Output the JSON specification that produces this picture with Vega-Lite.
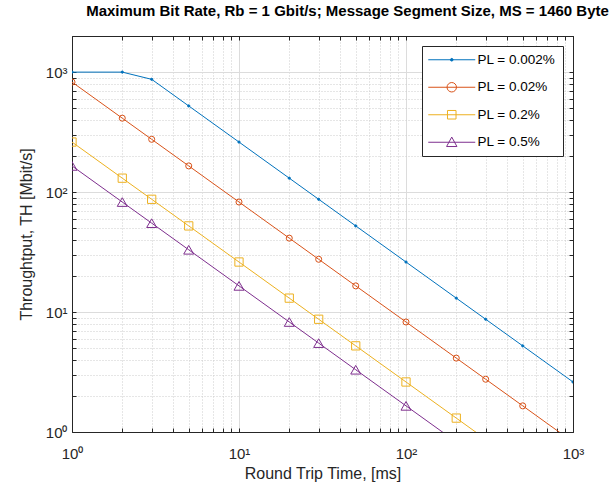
{
  "$schema": "https://vega.github.io/schema/vega-lite/v6.json",
  "width": 501,
  "height": 396,
  "autosize": {"type": "none"},
  "padding": {"left": 72, "top": 36, "right": 43, "bottom": 51},
  "background": "white",
  "title": {"text": "Maximum Bit Rate, Rb = 1 Gbit/s; Message Segment Size, MS = 1460 Byte", "anchor": "middle", "dx": 25, "offset": 10, "fontSize": 15, "font": "Liberation Sans", "fontWeight": "bold", "color": "black"},
  "config": {"view": {"stroke": null}, "font": "Liberation Sans"},
  "data": {"values": [
    {"rtt": 1, "tput": 1000, "series": "PL = 0.002%"},
    {"rtt": 2, "tput": 1000, "series": "PL = 0.002%"},
    {"rtt": 3, "tput": 870.6, "series": "PL = 0.002%"},
    {"rtt": 5, "tput": 522.4, "series": "PL = 0.002%"},
    {"rtt": 10, "tput": 261.2, "series": "PL = 0.002%"},
    {"rtt": 20, "tput": 130.6, "series": "PL = 0.002%"},
    {"rtt": 30, "tput": 87.06, "series": "PL = 0.002%"},
    {"rtt": 50, "tput": 52.24, "series": "PL = 0.002%"},
    {"rtt": 100, "tput": 26.12, "series": "PL = 0.002%"},
    {"rtt": 200, "tput": 13.06, "series": "PL = 0.002%"},
    {"rtt": 300, "tput": 8.706, "series": "PL = 0.002%"},
    {"rtt": 500, "tput": 5.224, "series": "PL = 0.002%"},
    {"rtt": 1000, "tput": 2.612, "series": "PL = 0.002%"},
    {"rtt": 1, "tput": 826.0, "series": "PL = 0.02%"},
    {"rtt": 2, "tput": 413.0, "series": "PL = 0.02%"},
    {"rtt": 3, "tput": 275.3, "series": "PL = 0.02%"},
    {"rtt": 5, "tput": 165.2, "series": "PL = 0.02%"},
    {"rtt": 10, "tput": 82.6, "series": "PL = 0.02%"},
    {"rtt": 20, "tput": 41.3, "series": "PL = 0.02%"},
    {"rtt": 30, "tput": 27.53, "series": "PL = 0.02%"},
    {"rtt": 50, "tput": 16.52, "series": "PL = 0.02%"},
    {"rtt": 100, "tput": 8.26, "series": "PL = 0.02%"},
    {"rtt": 200, "tput": 4.13, "series": "PL = 0.02%"},
    {"rtt": 300, "tput": 2.753, "series": "PL = 0.02%"},
    {"rtt": 500, "tput": 1.652, "series": "PL = 0.02%"},
    {"rtt": 1000, "tput": 0.826, "series": "PL = 0.02%"},
    {"rtt": 1, "tput": 261.2, "series": "PL = 0.2%"},
    {"rtt": 2, "tput": 130.6, "series": "PL = 0.2%"},
    {"rtt": 3, "tput": 87.06, "series": "PL = 0.2%"},
    {"rtt": 5, "tput": 52.24, "series": "PL = 0.2%"},
    {"rtt": 10, "tput": 26.12, "series": "PL = 0.2%"},
    {"rtt": 20, "tput": 13.06, "series": "PL = 0.2%"},
    {"rtt": 30, "tput": 8.706, "series": "PL = 0.2%"},
    {"rtt": 50, "tput": 5.224, "series": "PL = 0.2%"},
    {"rtt": 100, "tput": 2.612, "series": "PL = 0.2%"},
    {"rtt": 200, "tput": 1.306, "series": "PL = 0.2%"},
    {"rtt": 300, "tput": 0.871, "series": "PL = 0.2%"},
    {"rtt": 500, "tput": 0.522, "series": "PL = 0.2%"},
    {"rtt": 1000, "tput": 0.261, "series": "PL = 0.2%"},
    {"rtt": 1, "tput": 165.2, "series": "PL = 0.5%"},
    {"rtt": 2, "tput": 82.6, "series": "PL = 0.5%"},
    {"rtt": 3, "tput": 55.07, "series": "PL = 0.5%"},
    {"rtt": 5, "tput": 33.04, "series": "PL = 0.5%"},
    {"rtt": 10, "tput": 16.52, "series": "PL = 0.5%"},
    {"rtt": 20, "tput": 8.26, "series": "PL = 0.5%"},
    {"rtt": 30, "tput": 5.507, "series": "PL = 0.5%"},
    {"rtt": 50, "tput": 3.304, "series": "PL = 0.5%"},
    {"rtt": 100, "tput": 1.652, "series": "PL = 0.5%"},
    {"rtt": 200, "tput": 0.826, "series": "PL = 0.5%"},
    {"rtt": 300, "tput": 0.551, "series": "PL = 0.5%"},
    {"rtt": 500, "tput": 0.330, "series": "PL = 0.5%"},
    {"rtt": 1000, "tput": 0.165, "series": "PL = 0.5%"}
  ]},
  "layer": [
    {
      "mark": {"type": "line", "clip": true, "strokeWidth": 1},
      "encoding": {
        "x": {"field": "rtt", "type": "quantitative",
          "scale": {"type": "log", "domain": [1, 1000], "nice": false},
          "axis": {"orient": "bottom",
            "values": [1,2,3,4,5,6,7,8,9,10,20,30,40,50,60,70,80,90,100,200,300,400,500,600,700,800,900,1000],
            "labelExpr": "datum.value==1?'10⁰':datum.value==10?'10¹':datum.value==100?'10²':datum.value==1000?'10³':''",
            "labelOverlap": false, "labelFlush": false, "labelBound": false,
            "grid": true,
            "gridColor": {"condition": {"test": "datum.value==1||datum.value==10||datum.value==100||datum.value==1000", "value": "#dcdcdc"}, "value": "#cccccc"},
            "gridDash": {"condition": {"test": "datum.value==1||datum.value==10||datum.value==100||datum.value==1000", "value": []}, "value": [1, 2]},
            "tickSize": -4, "tickColor": "#262626", "domainColor": "#262626",
            "labelFontSize": 15, "labelColor": "#262626", "labelPadding": 18,
            "title": "Round Trip Time, [ms]", "titleFontSize": 16, "titleFontWeight": "normal", "titleColor": "#262626", "titlePadding": 4}},
        "y": {"field": "tput", "type": "quantitative",
          "scale": {"type": "log", "domain": [1, 2000], "nice": false},
          "axis": {"orient": "left",
            "values": [1,2,3,4,5,6,7,8,9,10,20,30,40,50,60,70,80,90,100,200,300,400,500,600,700,800,900,1000,2000],
            "labelExpr": "datum.value==1?'10⁰':datum.value==10?'10¹':datum.value==100?'10²':datum.value==1000?'10³':''",
            "labelOverlap": false, "labelFlush": false, "labelBound": false,
            "grid": true,
            "gridColor": {"condition": {"test": "datum.value==1||datum.value==10||datum.value==100||datum.value==1000", "value": "#dcdcdc"}, "value": "#cccccc"},
            "gridDash": {"condition": {"test": "datum.value==1||datum.value==10||datum.value==100||datum.value==1000", "value": []}, "value": [1, 2]},
            "tickSize": -4, "tickColor": "#262626", "domainColor": "#262626",
            "labelFontSize": 15, "labelColor": "#262626", "labelPadding": 9,
            "title": "Throughtput, TH [Mbit/s]", "titleFontSize": 16, "titleFontWeight": "normal", "titleColor": "#262626", "titlePadding": 11}},
        "color": {"field": "series", "type": "nominal",
          "scale": {"domain": ["PL = 0.002%", "PL = 0.02%", "PL = 0.2%", "PL = 0.5%"], "range": ["#0072BD", "#D95319", "#EDB120", "#7E2F8E"]},
          "legend": null}
      }
    },
    {
      "mark": {"type": "point", "clip": true, "filled": false, "strokeWidth": 1, "opacity": 1},
      "encoding": {
        "x": {"field": "rtt", "type": "quantitative",
          "axis": {"orient": "top",
            "values": [1,2,3,4,5,6,7,8,9,10,20,30,40,50,60,70,80,90,100,200,300,400,500,600,700,800,900,1000],
            "labels": false, "grid": false, "title": null,
            "tickSize": -4, "tickColor": "#262626", "domainColor": "#262626"}},
        "y": {"field": "tput", "type": "quantitative",
          "axis": {"orient": "right",
            "values": [1,2,3,4,5,6,7,8,9,10,20,30,40,50,60,70,80,90,100,200,300,400,500,600,700,800,900,1000,2000],
            "labels": false, "grid": false, "title": null,
            "tickSize": -4, "tickColor": "#262626", "domainColor": "#262626"}},
        "color": {"field": "series", "type": "nominal", "legend": null},
        "shape": {"field": "series", "type": "nominal",
          "scale": {"domain": ["PL = 0.002%", "PL = 0.02%", "PL = 0.2%", "PL = 0.5%"], "range": ["circle", "circle", "square", "triangle-up"]},
          "legend": null},
        "size": {"field": "series", "type": "nominal",
          "scale": {"domain": ["PL = 0.002%", "PL = 0.02%", "PL = 0.2%", "PL = 0.5%"], "range": [5, 100, 81, 110]},
          "legend": null},
        "fill": {"condition": {"test": "datum.series === 'PL = 0.002%'", "value": "#0072BD"}, "value": "transparent"}
      }
    },
    {
      "transform": [{"filter": "false"}],
      "mark": {"type": "point", "filled": false, "strokeWidth": 1, "opacity": 1},
      "encoding": {
        "shape": {"field": "series", "type": "nominal",
          "scale": {"domain": ["PL = 0.002%", "PL = 0.02%", "PL = 0.2%", "PL = 0.5%"],
            "range": [
              "M-5.22,0L5.22,0M-0.3,0A0.3,0.3,0,1,0,0.3,0A0.3,0.3,0,1,0,-0.3,0Z",
              "M-5.22,0L5.22,0M-1.05,0A1.05,1.05,0,1,0,1.05,0A1.05,1.05,0,1,0,-1.05,0Z",
              "M-5.22,0L5.22,0M-0.95,-0.95L0.95,-0.95L0.95,0.95L-0.95,0.95Z",
              "M-5.22,0L5.22,0M0,-1.15L1.15,0.95L-1.15,0.95Z"
            ]},
          "legend": {"title": null, "orient": "top-right", "offset": 10, "padding": 7,
            "fillColor": "white", "strokeColor": "#262626", "cornerRadius": 0,
            "labelFontSize": 13.5, "labelColor": "black", "labelFont": "Liberation Sans",
            "rowPadding": 12.5, "symbolOffset": 16, "labelOffset": 19, "symbolSize": 81, "symbolStrokeWidth": 1,
            "encoding": {"symbols": {
              "fill": {"condition": {"test": "datum.value === 'PL = 0.002%'", "value": "#0072BD"}, "value": "transparent"},
              "stroke": {"condition": [
                {"test": "datum.value === 'PL = 0.002%'", "value": "#0072BD"},
                {"test": "datum.value === 'PL = 0.02%'", "value": "#D95319"},
                {"test": "datum.value === 'PL = 0.2%'", "value": "#EDB120"}
              ], "value": "#7E2F8E"},
              "size": {"value": 81},
              "strokeWidth": {"value": 1},
              "opacity": {"value": 1}
            }}}}
      }
    }
  ],
  "resolve": {"scale": {"shape": "independent", "size": "independent"}, "axis": {"x": "independent", "y": "independent"}}
}
